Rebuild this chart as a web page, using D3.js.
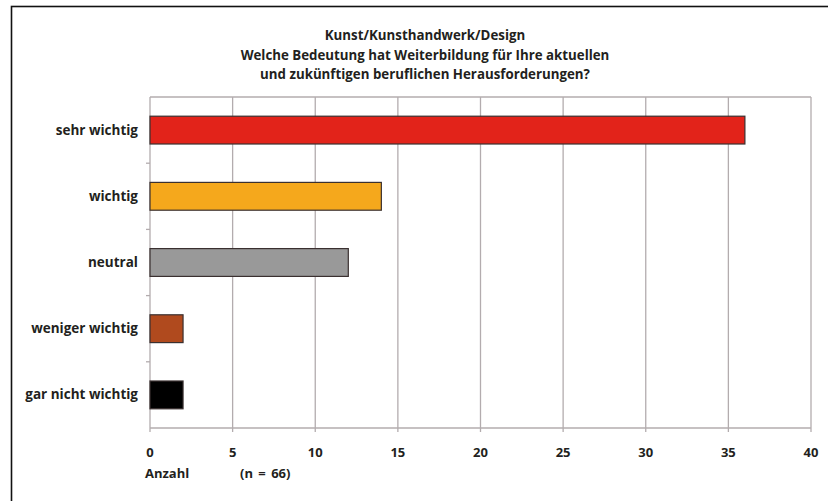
<!DOCTYPE html>
<html><head><meta charset="utf-8">
<script src="https://cdn.jsdelivr.net/npm/d3@7"></script>
<style>body{margin:0;background:#fff}svg{display:block}text{font-family:"Open Sans",sans-serif;font-weight:bold;fill:#231f20}</style>
</head><body><svg width="828" height="501"></svg>
<script>
const categories = ["sehr wichtig","wichtig","neutral","weniger wichtig","gar nicht wichtig"];
const values = [36,14,12,2,2];
const colors = ["#e2231a","#f5a81c","#999999","#b04a1e","#000000"];
const xTicks = [0,5,10,15,20,25,30,35,40];
const titleLines = ["Kunst/Kunsthandwerk/Design","Welche Bedeutung hat Weiterbildung für Ihre aktuellen","und zukünftigen beruflichen Herausforderungen?"];
const xLabel = "Anzahl", nLabel = "(n = 66)";

const svg = d3.select("svg");
svg.append("rect").attr("x",11.5).attr("y",6.5).attr("width",830).attr("height",510)
  .attr("fill","none").attr("stroke","#111").attr("stroke-width",1.6);

const m = {l:150,r:811,t:97,b:428};
const x = d3.scaleLinear().domain([0,40]).range([m.l,m.r]);
const y = d3.scaleBand().domain(categories).range([m.t,m.b]).paddingInner(0.58).paddingOuter(0.29);
const yb = d3.scaleBand().domain(categories).range([m.t,m.b]);
const grid = "#b3acae";

svg.append("g").selectAll("line").data(xTicks).join("line")
  .attr("x1",d=>x(d)).attr("x2",d=>x(d)).attr("y1",m.t).attr("y2",m.b+4)
  .attr("stroke",grid).attr("stroke-width",1.3);
svg.append("line").attr("x1",m.l).attr("x2",m.r).attr("y1",m.t).attr("y2",m.t).attr("stroke",grid).attr("stroke-width",1.6);
svg.append("line").attr("x1",m.l).attr("x2",m.r).attr("y1",m.b).attr("y2",m.b).attr("stroke",grid).attr("stroke-width",1.6);
svg.append("g").selectAll("line").data(categories.slice(1)).join("line")
  .attr("x1",m.l-4).attr("x2",m.l).attr("y1",d=>yb(d)).attr("y2",d=>yb(d))
  .attr("stroke",grid).attr("stroke-width",1.3);

svg.append("g").selectAll("rect").data(categories).join("rect")
  .attr("x",x(0)).attr("y",d=>y(d)).attr("height",y.bandwidth())
  .attr("width",(d,i)=>x(values[i])-x(0))
  .attr("fill",(d,i)=>colors[i]).attr("stroke","#3a3030").attr("stroke-width",1.2);

svg.append("g").selectAll("text").data(categories).join("text")
  .attr("x",138).attr("y",d=>yb(d)+yb.bandwidth()/2+4.5).attr("text-anchor","end")
  .attr("font-size",13.5).text(d=>d);

svg.append("g").selectAll("text").data(xTicks).join("text")
  .attr("x",d=>x(d)).attr("y",457).attr("text-anchor","middle").attr("font-size",13).text(d=>d);
svg.append("text").attr("x",145).attr("y",478).attr("font-size",13).text(xLabel);
svg.append("text").attr("x",240).attr("y",478).attr("font-size",13).attr("word-spacing",2).text(nLabel);

svg.append("g").selectAll("text").data(titleLines).join("text")
  .attr("x",425).attr("y",(d,i)=>40+i*19.5).attr("text-anchor","middle").attr("font-size",13.3).text(d=>d);
</script></body></html>
